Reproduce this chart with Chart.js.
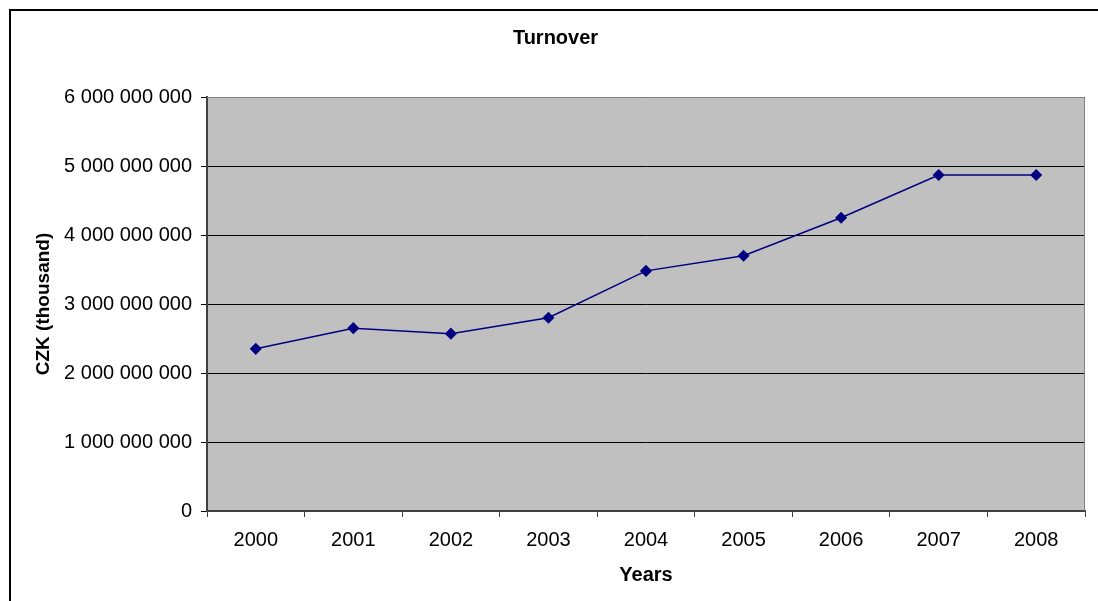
<!DOCTYPE html>
<html>
<head>
<meta charset="utf-8">
<script src="https://cdn.jsdelivr.net/npm/chart.js@4/dist/chart.umd.min.js"></script>
<style>
  html, body { margin: 0; padding: 0; background: #fff; }
  #wrap { width: 1098px; height: 601px; }
</style>
</head>
<body>
<div id="wrap"><canvas id="chart" width="1098" height="601"></canvas></div>
<script>
'use strict';

let years = ['2000', '2001', '2002', '2003', '2004', '2005', '2006', '2007', '2008'];
let turnover = [2350000000, 2650000000, 2570000000, 2800000000, 3480000000, 3700000000, 4250000000, 4870000000, 4870000000];
let yTicks = [0, 1000000000, 2000000000, 3000000000, 4000000000, 5000000000, 6000000000];

let fontFamily = '"Liberation Sans", Arial, sans-serif';

// grey plot area, outer frame
const backdrop = {
  id: 'backdrop',
  beforeDraw(chart) {
    let ctx = chart.ctx;
    let a = chart.chartArea;
    ctx.save();
    ctx.fillStyle = '#ffffff';
    ctx.fillRect(0, 0, chart.width, chart.height);
    ctx.fillStyle = '#c0c0c0';
    ctx.fillRect(a.left, a.top, a.right - a.left, a.bottom - a.top);
    ctx.strokeStyle = '#000000';
    ctx.lineWidth = 2;
    ctx.beginPath();
    ctx.moveTo(10, chart.height + 5);
    ctx.lineTo(10, 10);
    ctx.lineTo(chart.width + 5, 10);
    ctx.stroke();
    ctx.restore();
  },
  beforeDatasetsDraw(chart) {
    let ctx = chart.ctx;
    let a = chart.chartArea;
    ctx.save();
    ctx.strokeStyle = '#808080';
    ctx.lineWidth = 1;
    ctx.beginPath();
    ctx.moveTo(a.left, a.top + 0.5);
    ctx.lineTo(a.right - 0.5, a.top + 0.5);
    ctx.lineTo(a.right - 0.5, a.bottom);
    ctx.stroke();
    ctx.restore();
  }
};

function spaced(v) {
  return String(v).replace(/\B(?=(\d{3})+(?!\d))/g, ' ');
}

let canvasElem = document.getElementById('chart');

const myChart = new Chart(canvasElem, {
  type: 'line',
  data: {
    labels: years,
    datasets: [{
      label: 'Turnover',
      data: turnover,
      borderColor: '#000080',
      backgroundColor: '#000080',
      borderWidth: 1.5,
      pointStyle: 'rectRot',
      pointRadius: 5,
      pointHoverRadius: 5,
      tension: 0
    }]
  },
  plugins: [backdrop],
  options: {
    responsive: false,
    animation: false,
    devicePixelRatio: 1,
    layout: { padding: { left: 26, right: 13, top: 0, bottom: 14 } },
    plugins: {
      legend: { display: false },
      tooltip: { enabled: false },
      title: {
        display: true,
        text: 'Turnover',
        color: '#000',
        font: { family: fontFamily, size: 20, weight: 'bold' },
        padding: { top: 26, bottom: 47 }
      }
    },
    scales: {
      x: {
        offset: true,
        grid: {
          offset: true,
          drawOnChartArea: false,
          tickLength: 6,
          color: '#404040'
        },
        border: { color: '#404040', width: 2 },
        ticks: {
          color: '#000',
          font: { family: fontFamily, size: 20 },
          padding: 11,
          maxRotation: 0
        },
        title: {
          display: true,
          text: 'Years',
          color: '#000',
          font: { family: fontFamily, size: 20, weight: 'bold' },
          padding: { top: 8, bottom: 0 }
        },
        afterFit(scale) { scale.height = 76; }
      },
      y: {
        min: 0,
        max: 6000000000,
        afterBuildTicks(scale) {
          scale.ticks = yTicks.map(v => ({ value: v }));
        },
        grid: {
          color: '#000000',
          lineWidth: 1,
          tickLength: 6
        },
        border: { color: '#404040', width: 2 },
        ticks: {
          color: '#000',
          font: { family: fontFamily, size: 20 },
          padding: 9,
          callback: v => spaced(v)
        },
        title: {
          display: true,
          text: 'CZK (thousand)',
          color: '#000',
          font: { family: fontFamily, size: 19, weight: 'bold' },
          padding: { top: 6, bottom: 0 }
        },
        afterFit(scale) { scale.width = 181; }
      }
    }
  }
});
</script>
</body>
</html>
